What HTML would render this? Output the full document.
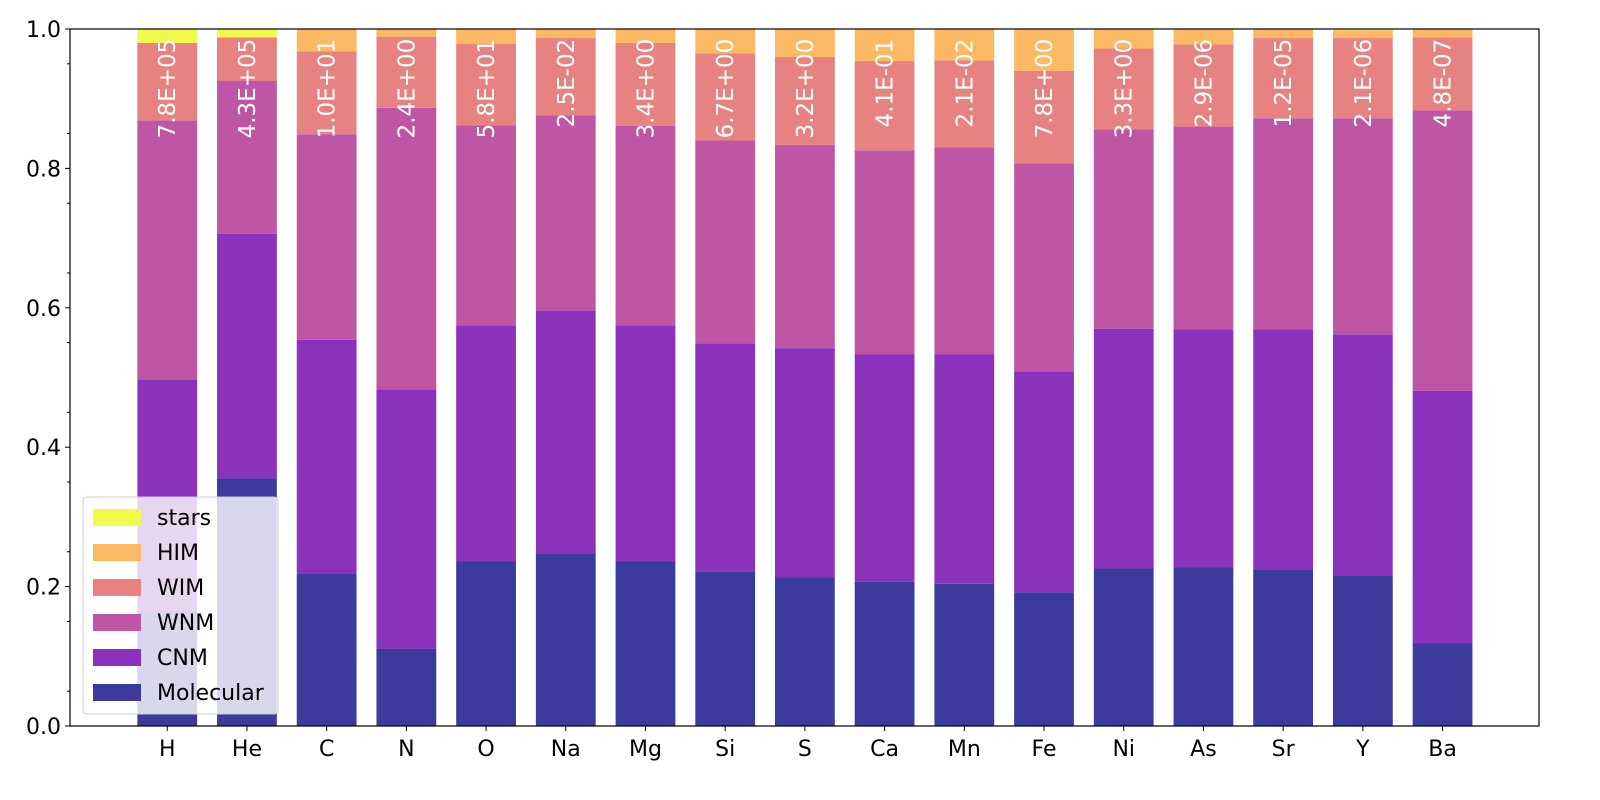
<!DOCTYPE html>
<html><head><meta charset="utf-8"><style>
body{margin:0;background:#fff;}
svg{display:block;font-family:"DejaVu Sans","Liberation Sans",sans-serif;}
</style></head><body>
<svg id="chart" width="1600" height="800"></svg>
<script>
const categories=["H","He","C","N","O","Na","Mg","Si","S","Ca","Mn","Fe","Ni","As","Sr","Y","Ba"];
const seriesNames=["Molecular","CNM","WNM","WIM","HIM","stars"];
const seriesColors=["#3d3a9e","#8a32bb","#bf56a5","#e68380","#fdb863","#f3f94a"];
const molecular=[0.165,0.355,0.219,0.111,0.236,0.248,0.236,0.221,0.213,0.207,0.204,0.192,0.226,0.228,0.225,0.216,0.119];
const cnm=[0.332,0.351,0.335,0.372,0.339,0.348,0.339,0.328,0.329,0.326,0.329,0.317,0.344,0.341,0.344,0.346,0.362];
const wnm=[0.372,0.220,0.295,0.404,0.287,0.280,0.286,0.291,0.292,0.293,0.297,0.298,0.286,0.291,0.303,0.310,0.402];
const wim=[0.111,0.062,0.119,0.102,0.117,0.111,0.119,0.125,0.126,0.128,0.125,0.133,0.116,0.118,0.115,0.115,0.105];
const him=[0.000,0.000,0.032,0.011,0.021,0.013,0.020,0.035,0.040,0.046,0.045,0.060,0.028,0.022,0.013,0.011,0.012];
const stars=[0.020,0.012,0.000,0.000,0.000,0.000,0.000,0.000,0.000,0.000,0.000,0.000,0.000,0.000,0.000,0.002,0.000];
const valueLabels=["7.8E+05","4.3E+05","1.0E+01","2.4E+00","5.8E+01","2.5E-02","3.4E+00","6.7E+00","3.2E+00","4.1E-01","2.1E-02","7.8E+00","3.3E+00","2.9E-06","1.2E-05","2.1E-06","4.8E-07"];
const yTicks=[0,0.2,0.4,0.6,0.8,1.0];
const yTickLabels=["0.0","0.2","0.4","0.6","0.8","1.0"];

const NS="http://www.w3.org/2000/svg";
const svg=document.getElementById('chart');
const L=70,R=1539,T=29,B=726;
const xMin=-1.22,xMax=17.21;
const xs=i=>L+(i-xMin)/(xMax-xMin)*(R-L);
const ys=v=>B-v*(B-T);
const bw=0.75*(R-L)/(xMax-xMin);
function mk(tag,attrs,parent){const e=document.createElementNS(NS,tag);for(const k in attrs)e.setAttribute(k,attrs[k]);(parent||svg).appendChild(e);return e;}

const series=[molecular,cnm,wnm,wim,him,stars];
categories.forEach((c,i)=>{
  let base=0;
  series.forEach((s,j)=>{
    const r=mk('rect',{x:xs(i)-bw/2,y:ys(base+s[i]),width:bw,height:ys(base)-ys(base+s[i]),fill:seriesColors[j]});
    
    
    base+=s[i];
  });
  const t=mk('text',{x:0,y:0,transform:`translate(${xs(i)+8},${ys(0.986)}) rotate(-90)`,fill:'#fff','font-size':23,'text-anchor':'end'});
  t.textContent=valueLabels[i];
  
  
  const tk=mk('line',{x1:xs(i),x2:xs(i),y1:B,y2:B+5,stroke:'#000','stroke-width':1});
  
  
  const xl=mk('text',{x:xs(i),y:B+30,'font-size':22,'text-anchor':'middle',fill:'#000'});
  xl.textContent=c;
  
  
});
yTicks.forEach((v,k)=>{
  const tk=mk('line',{x1:L-5,x2:L,y1:ys(v),y2:ys(v),stroke:'#000'});
  
  
  const yl=mk('text',{x:L-9,y:ys(v)+8,'font-size':22,'text-anchor':'end',fill:'#000'});
  yl.textContent=yTickLabels[k];
  
  
});
for(let v=0.05;v<1;v+=0.1){
  const m=mk('line',{x1:L-3,x2:L,y1:ys(v),y2:ys(v),stroke:'#000'});
  
  
}
const frame=mk('rect',{x:L,y:T,width:R-L,height:B-T,fill:'none',stroke:'#000','stroke-width':1.2});



const lg=mk('g',{});


mk('rect',{x:83,y:497,width:195,height:217,rx:4,fill:'#fff','fill-opacity':0.8,stroke:'#ccc'},lg);
const order=[5,4,3,2,1,0];
order.forEach((j,k)=>{
  const y=517+k*35;
  const p=mk('rect',{x:93,y:y-8,width:48,height:17,fill:seriesColors[j]},lg);
  
  
  const t=mk('text',{x:157,y:y+8,'font-size':22,fill:'#000'},lg);
  t.textContent=seriesNames[j];
  
  
});
</script>
</body></html>
